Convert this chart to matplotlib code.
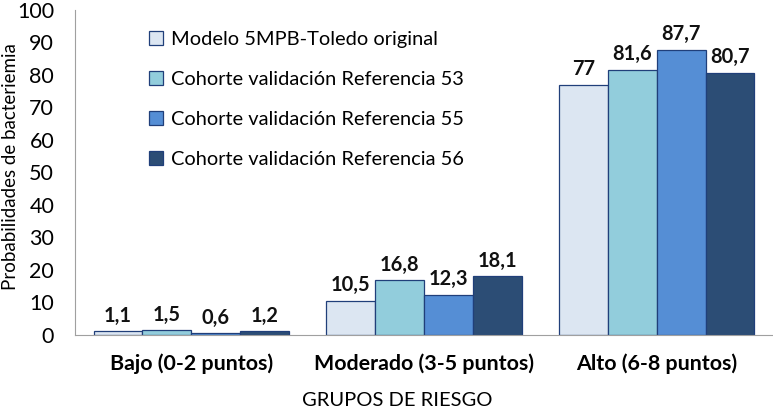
import numpy as np
import matplotlib
matplotlib.use("Agg")
import matplotlib.pyplot as plt

plt.rcParams['font.family'] = ['Lato', 'DejaVu Sans']

groups = ["Bajo (0-2 puntos)", "Moderado (3-5 puntos)", "Alto (6-8 puntos)"]
series_names = [
    "Modelo 5MPB-Toledo original",
    "Cohorte validación Referencia 53",
    "Cohorte validación Referencia 55",
    "Cohorte validación Referencia 56",
]
modelo = [1.1, 10.5, 77]
ref53 = [1.5, 16.8, 81.6]
ref55 = [0.6, 12.3, 87.7]
ref56 = [1.2, 18.1, 80.7]
values = [modelo, ref53, ref55, ref56]
labels = [["1,1", "10,5", "77"], ["1,5", "16,8", "81,6"],
          ["0,6", "12,3", "87,7"], ["1,2", "18,1", "80,7"]]
colors = ["#DCE6F2", "#92CDDC", "#558ED5", "#2C4D75"]

fig = plt.figure(figsize=(7.73, 4.11), dpi=100)
ax = fig.add_axes([0.097, 0.185, 0.903, 0.791])

x = np.arange(len(groups))
w = 0.21
for i, (vals, col) in enumerate(zip(values, colors)):
    pos = x + (i - 1.5) * w
    ax.bar(pos, vals, w, color=col, edgecolor="#203F7A", linewidth=0.9,
           label=series_names[i])
    for p, v, t in zip(pos, vals, labels[i]):
        ax.text(p, v + 1.7, t, ha="center", va="bottom", fontsize=14.4,
                fontweight="bold", color="#111111")

ax.set_xlim(-0.5, 2.5)
ax.set_ylim(0, 100)
ax.set_yticks(range(0, 101, 10))
ax.tick_params(axis="y", length=0, labelsize=15.5, pad=15)
ax.tick_params(axis="x", length=0, labelsize=15.4, pad=13)
ax.set_xticks(x)
ax.set_xticklabels(groups, fontweight="bold")
for s in ["top", "right"]:
    ax.spines[s].set_visible(False)
for s in ["left", "bottom"]:
    ax.spines[s].set_color("#A0A0A0")
ax.set_ylabel("Probabilidades de bacteriemia", fontsize=13.5)
ax.yaxis.set_label_coords(-0.080, 0.517)
fig.text(397 / 773, 2 / 411, "GRUPOS DE RIESGO", fontsize=14.5,
         ha="center", va="bottom")

ax.legend(loc="upper left", bbox_to_anchor=(0.08, 0.99), frameon=False,
          fontsize=14.4, handlelength=0.7, handleheight=0.7,
          handletextpad=0.4, labelspacing=1.15)

fig.savefig("out.png", dpi=100)
